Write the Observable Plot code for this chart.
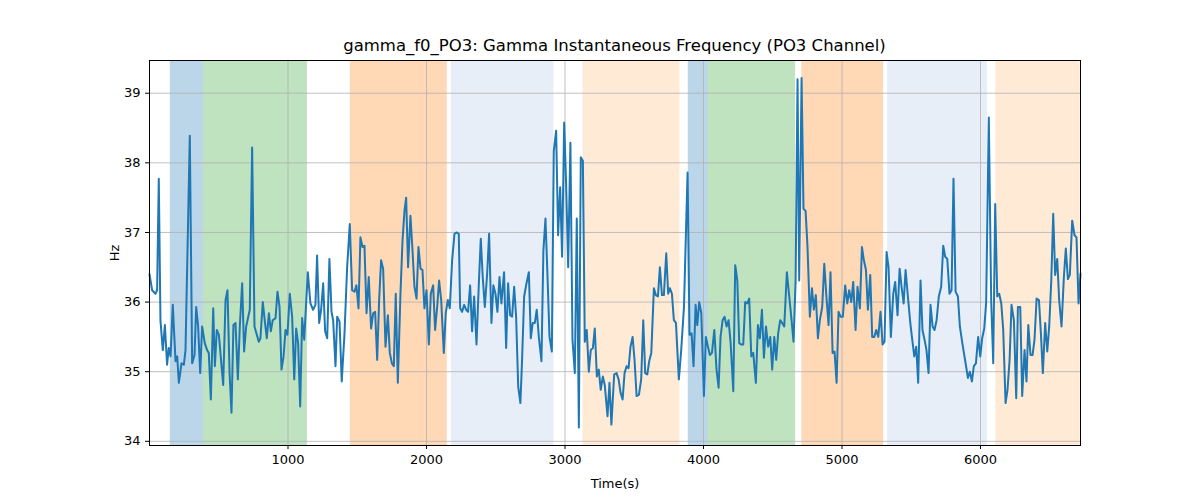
<!DOCTYPE html>
<html><head><meta charset="utf-8">
<script src="https://cdn.jsdelivr.net/npm/d3@7"></script>
<script src="https://cdn.jsdelivr.net/npm/@observablehq/plot@0.6"></script>
<style>body{margin:0;background:#fff;font-family:"DejaVu Sans",sans-serif}
#t{height:58px;width:1200px;box-sizing:border-box;padding-left:29px;text-align:center;font-size:16.5px;line-height:20px;padding-top:36px}</style>
</head><body><div id="t">gamma_f0_PO3: Gamma Instantaneous Frequency (PO3 Channel)</div><div id="c"></div>
<script>
const times = [0,19,43,55,67,79,96,111,127,139,152,168,188,200,212,231,248,260,291,308,325,337,351,366,380,399,416,428,443,460,472,486,501,532,549,563,578,592,606,621,638,652,669,683,698,724,741,758,789,801,818,833,847,862,876,890,910,924,939,953,968,982,996,1013,1030,1045,1059,1073,1088,1102,1117,
1143,1162,1181,1198,1210,1225,1239,1254,1268,1283,1299,1314,1326,1343,1355,1372,1388,1408,1427,1446,1463,1480,1494,1509,1523,1538,1552,1567,1583,1600,1615,1629,1644,1658,1672,1687,1704,1721,1735,1750,1764,1778,1793,1812,1827,1841,1853,1867,1884,1899,1913,1928,1942,1957,1971,1985,2000,2017,2031,2048,2062,2077,2091,2106,2125,2139,2154,2168,2185,2202,2216,2233,
2243,2257,2272,2286,2300,2315,2329,2344,2361,2378,2392,2406,2421,2438,2452,2469,2483,2498,2512,2527,2541,2560,2575,2589,2604,2618,2633,2647,2662,2678,2690,2705,2722,2739,2753,2767,2782,2796,2811,2830,2844,2859,2873,2888,2905,2919,2936,2950,2965,2979,2994,3008,3023,3039,3054,3071,3085,3100,3114,3129,3143,3157,3172,3186,3201,3215,3230,3244,3258,3273,3287,3307,3321,3335,3355,
3372,3387,3401,3416,3430,3445,3459,3473,3488,3502,3517,3534,3550,3565,3579,3594,3608,3623,3642,3656,3671,3685,3700,3714,3731,3745,3757,3772,3786,3801,3822,3839,3859,3873,3885,3899,3914,3928,3943,3955,3969,3984,4003,4017,4032,4046,4061,4078,4094,4109,4123,4138,4152,4167,4181,4196,4215,4229,4244,4258,4273,4287,4301,4316,4330,4345,4359,4378,4393,4407,4422,4436,4451,
4467,4482,4496,4511,4525,4539,4554,4568,4583,4602,4617,4631,4650,4665,4679,4691,4708,4722,4737,4751,4768,4783,4797,4811,4826,4840,4857,4872,4886,4903,4917,4932,4946,4961,4975,4990,5006,5023,5038,5052,5067,5081,5098,5112,5129,5144,5158,5173,5187,5204,5218,5233,5247,5262,5278,5293,5307,5322,5336,5353,5370,5384,5401,5416,5430,5445,5459,5478,5493,5507,5522,5536,5550,
5567,5581,5596,5610,5625,5639,5654,5668,5683,5699,5716,5731,5745,5760,5776,5791,5805,5820,5837,5851,5865,5880,5894,5909,5923,5938,5952,5967,5983,5998,6012,6027,6041,6060,6077,6092,6106,6121,6135,6150,6164,6181,6195,6210,6224,6241,6258,6270,6287,6301,6318,6332,6345,6361,6376,6390,6405,6422,6436,6450,6467,6482,6496,6511,6525,6539,6554,6568,6585,6602,6616,6631,6645,6662,6679,6693,6708,6722];
const freqs = [36.4,36.17,36.12,36.17,37.77,35.74,35.31,35.67,35.1,35.34,35.22,35.96,35.15,35.22,34.84,35.12,35.1,35.31,38.39,35.12,35.24,35.93,35.65,34.98,35.65,35.41,35.31,35.27,34.6,35.91,35.08,35.6,35.53,34.81,36.03,36.17,34.98,34.41,35.67,35.7,34.89,35.65,36.27,35.29,35.65,35.89,38.22,35.65,35.43,35.48,36.0,35.72,35.48,35.84,35.58,35.74,35.77,36.15,35.93,35.03,35.22,35.6,35.53,36.12,35.79,34.89,35.62,35.41,34.5,35.77,35.46,
36.43,35.98,35.89,35.96,36.67,35.7,35.89,36.27,35.58,35.48,36.62,35.86,35.74,35.08,35.79,35.72,34.86,35.55,36.5,37.12,36.17,36.15,36.24,35.91,36.93,36.79,36.81,35.84,36.36,35.62,35.84,35.86,35.17,36.03,36.6,36.48,35.36,35.81,35.27,35.12,35.08,36.12,34.84,36.12,36.89,37.31,37.5,36.5,37.24,36.74,36.22,36.05,36.79,36.48,36.46,35.91,36.17,35.39,36.12,36.24,35.6,35.93,36.31,36.03,35.27,35.84,36.03,35.91,36.6,36.98,37.0,36.98,
35.91,35.86,35.96,35.89,35.86,36.24,35.58,36.08,35.39,36.27,36.91,36.36,35.93,36.41,36.98,35.7,36.24,36.12,35.86,36.36,35.98,36.43,35.34,36.27,35.81,35.79,36.22,35.79,34.79,34.55,35.17,36.08,36.27,36.43,35.48,35.7,35.7,35.89,35.5,35.15,36.74,37.2,36.41,35.5,35.29,38.17,38.46,36.96,37.65,36.65,38.58,37.7,36.5,38.29,35.46,34.98,37.2,34.2,38.08,38.03,35.43,35.6,35.0,35.31,35.34,35.62,34.93,35.03,34.74,34.93,34.81,34.36,34.84,34.24,34.96,
34.98,34.89,34.7,34.6,34.98,35.08,35.05,35.36,35.5,35.17,34.65,34.67,34.89,35.74,34.98,34.96,35.15,35.27,36.2,36.1,36.08,36.5,36.1,36.1,36.7,36.12,36.2,36.12,35.74,35.7,34.89,35.31,35.93,36.98,37.86,35.53,35.55,35.08,35.96,35.67,36.0,35.84,34.65,35.5,35.36,35.24,35.27,35.6,35.03,34.77,35.5,35.74,35.79,35.65,35.74,35.41,34.72,36.53,36.31,35.41,35.39,35.39,36.0,35.98,36.05,35.22,35.27,34.84,35.67,35.48,35.89,35.2,35.65,
35.36,35.5,35.03,35.5,35.17,35.55,35.74,35.7,35.65,36.43,36.12,35.84,35.43,36.31,39.2,36.31,39.22,37.34,37.31,36.79,35.79,36.2,35.89,36.1,35.48,35.74,35.93,36.55,36.12,35.67,36.43,35.27,35.29,34.84,35.86,35.79,35.79,36.24,35.98,36.17,36.0,36.29,35.6,36.22,35.91,36.79,36.6,36.46,35.89,36.39,35.5,35.5,35.6,35.5,35.86,35.39,35.43,36.72,36.5,35.5,36.12,36.29,35.81,36.48,36.22,35.98,36.46,36.03,35.7,35.46,35.22,35.36,34.84,
36.31,35.6,35.46,35.31,34.98,35.96,35.65,35.6,35.74,36.08,36.22,36.81,36.65,36.62,36.12,36.17,37.77,36.15,36.08,35.65,35.46,35.27,35.1,34.91,35.0,34.86,35.08,35.12,35.5,35.22,35.48,35.62,36.0,38.65,36.03,35.12,37.41,36.08,36.12,35.98,35.6,34.55,34.74,35.17,35.96,35.74,34.62,35.93,35.93,34.65,35.31,34.86,35.67,35.24,35.24,35.46,36.05,36.03,35.55,34.98,35.7,35.29,35.65,36.31,37.27,36.39,36.62,36.03,35.65,36.36,36.77,36.33,36.39,37.17,36.96,36.93,35.98,36.41];
const spanStart = [150,390,1450,2180,3130,3890,4035,4710,5330,6110];
const spanEnd   = [390,1140,2150,2920,3830,4035,4665,5300,6050,6720];
const spanColor = ["#1f77b4","#2ca02c","#ff7f0e","#aec7e8","#ffbb78","#1f77b4","#2ca02c","#ff7f0e","#aec7e8","#ffbb78"];
const xTicks = [1000,2000,3000,4000,5000,6000];
const yTicks = [34,35,36,37,38,39];

const pts = times.map((t,i)=>({t, f:freqs[i]}));
const spans = spanStart.map((s,i)=>({s, e:spanEnd[i], c:spanColor[i]}));
const chart = Plot.plot({
  width:1200, height:442, marginTop:2, marginBottom:55, marginLeft:149, marginRight:120,
  style:{fontFamily:"DejaVu Sans", fontSize:"13px", color:"#000"},
  x:{domain:[0,6722], ticks:xTicks, tickFormat:d3.format("d"), tickSize:4, label:"Time(s)", labelAnchor:"center", labelArrow:"none", labelOffset:42},
  y:{domain:[33.94,39.47], ticks:yTicks, tickFormat:d3.format("d"), tickSize:4, label:"Hz", labelAnchor:"center", labelArrow:"none", labelOffset:40},
  marks:[
    Plot.rectX(spans,{x1:"s",x2:"e",fill:"c",fillOpacity:0.3}),
    Plot.gridX(xTicks,{stroke:"#b0b0b0",strokeOpacity:1,strokeWidth:0.8}),
    Plot.gridY(yTicks,{stroke:"#b0b0b0",strokeOpacity:1,strokeWidth:0.8}),
    Plot.line(pts,{x:"t",y:"f",stroke:"#1f77b4",strokeWidth:2}),
    Plot.frame({stroke:"#000"})
  ]
});
document.getElementById("c").appendChild(chart);
</script></body></html>
